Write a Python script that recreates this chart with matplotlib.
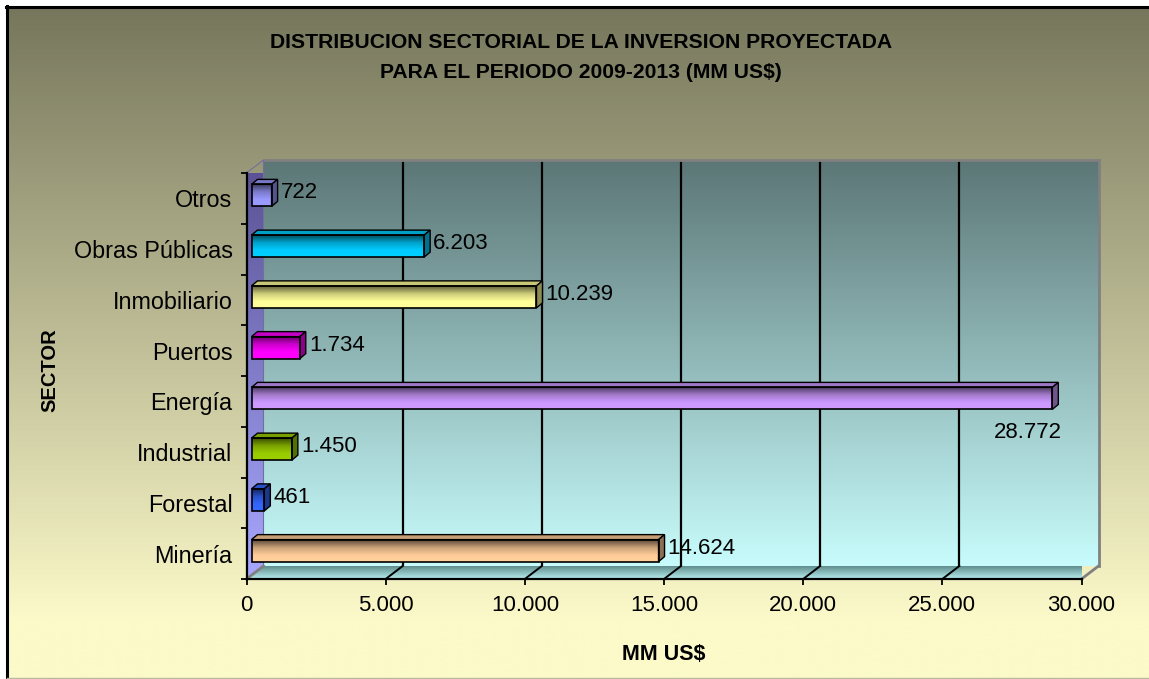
import numpy as np
import matplotlib.pyplot as plt
from matplotlib.colors import LinearSegmentedColormap, to_rgb
from matplotlib.patches import Polygon, Rectangle
from matplotlib.lines import Line2D

plt.rcParams['font.family'] = ['Liberation Sans', 'DejaVu Sans']

# datos (MM US$)
sectores = ['Minería', 'Forestal', 'Industrial', 'Energía',
            'Puertos', 'Inmobiliario', 'Obras Públicas', 'Otros']
inversion = [14624, 461, 1450, 28772, 1734, 10239, 6203, 722]
etiquetas = ['14.624', '461', '1.450', '28.772', '1.734', '10.239', '6.203', '722']
colores = ['#ffcc99', '#3366ff', '#99cc00', '#cc99ff',
           '#ff00ff', '#ffff99', '#00ccff', '#9999ff']
xticks = [0, 5000, 10000, 15000, 20000, 25000, 30000]
xticklabels = ['0', '5.000', '10.000', '15.000', '20.000', '25.000', '30.000']

W, H = 1149, 679
fig = plt.figure(figsize=(W / 100, H / 100), dpi=100, facecolor='white')


def px_box(l, t, r, b):
    return [l / W, 1 - b / H, (r - l) / W, (b - t) / H]


def vgrad(top, bottom, n=256):
    # gradiente vertical (fila 0 = arriba)
    t = np.linspace(0, 1, n)[:, None, None]
    return np.array(top)[None, None, :] * (1 - t) + np.array(bottom)[None, None, :] * t


# ---- fondo del grafico
bg = fig.add_axes([0, 0, 1, 1], zorder=0)
bg.set_xlim(0, W)
bg.set_ylim(H, 0)
bg.axis('off')
rows = np.arange(H)
f = np.clip(rows / 620.0, 0, 1)[:, None, None]
top_c = np.array([118, 118, 92]) / 255
bot_c = np.array([252, 250, 201]) / 255
grad = top_c * (1 - f) + bot_c * f
bg.imshow(grad, extent=[7, W, H, 7], aspect='auto', interpolation='bilinear')
bg.add_line(Line2D([7, 7], [6, H], color='black', lw=2.2))
bg.add_line(Line2D([6, W], [7, 7], color='black', lw=2.2))
bg.add_line(Line2D([7, W], [678, 678], color='#b8b8a0', lw=1))
bg.set_xlim(0, W)
bg.set_ylim(H, 0)

# ---- geometria del plano frontal y profundidad de la pared
FL, FT, FR, FB = 246.5, 173, 1081.5, 579
DX, DY = 17, 13

xmax = 30000
ylo, yhi = -0.5, len(sectores) - 0.5

# pared del fondo
wall = fig.add_axes(px_box(FL + DX, FT - DY, FR + DX, FB - DY), zorder=1)
wall.imshow(vgrad([92 / 255, 118 / 255, 118 / 255], [200 / 255, 252 / 255, 252 / 255]),
            extent=[0, xmax, ylo, yhi], aspect='auto', interpolation='bilinear')
wall.set_xlim(0, xmax)
wall.set_ylim(ylo, yhi)
wall.vlines(xticks[1:-1], ylo, yhi, color='black', lw=1.6)
wall.set_xticks([])
wall.set_yticks([])
for s in ['left', 'bottom']:
    wall.spines[s].set_visible(False)
for s in ['top', 'right']:
    wall.spines[s].set_color('#808080')
    wall.spines[s].set_linewidth(2)

# ejes principales
ax = fig.add_axes(px_box(FL, FT, FR, FB), zorder=2)
ax.patch.set_visible(False)
ax.set_autoscale_on(False)
ax.set_xlim(0, xmax)
ax.set_ylim(ylo, yhi)

bb = ax.get_window_extent()
kx = xmax / bb.width
ky = (yhi - ylo) / bb.height
ddx, ddy = DX * kx, DY * ky

# pared izquierda
lw_poly = Polygon([(0, ylo), (ddx, ylo + ddy), (ddx, yhi + ddy), (0, yhi)], closed=True,
                  facecolor='none', edgecolor='#7070a0', lw=0.8, clip_on=False, zorder=1)
ax.add_patch(lw_poly)
im = ax.imshow(vgrad([88 / 255, 80 / 255, 145 / 255], [168 / 255, 168 / 255, 255 / 255]),
               extent=[0, ddx, ylo, yhi + ddy], aspect='auto', interpolation='bilinear', zorder=0.5)
im.set_clip_path(lw_poly)

# piso
floor = Polygon([(0, ylo), (xmax, ylo), (xmax + ddx, ylo + ddy), (ddx, ylo + ddy)], closed=True,
                facecolor='none', edgecolor='none', clip_on=False, zorder=1)
ax.add_patch(floor)
im = ax.imshow(vgrad([95 / 255, 140 / 255, 140 / 255], [185 / 255, 240 / 255, 240 / 255]),
               extent=[0, xmax + ddx, ylo, ylo + ddy], aspect='auto', interpolation='bilinear', zorder=0.5)
im.set_clip_path(floor)
for x in xticks:
    c = 'black' if 0 < x < xmax else '#808080'
    ax.add_line(Line2D([x, x + ddx], [ylo, ylo + ddy], color=c, lw=1.4 if c == 'black' else 2,
                       clip_on=False, zorder=1.2))

# ---- barras 3D
sx, sy = 5 * kx, 3 * ky          # desplazamiento de las barras
bh = 22 * ky                     # alto de la cara frontal
tdx, tdy = 6 * kx, 5 * ky        # profundidad de la barra
renderer = fig.canvas.get_renderer()

for i, (v, col, lab) in enumerate(zip(inversion, colores, etiquetas)):
    c = np.array(to_rgb(col))
    cmap = LinearSegmentedColormap.from_list(
        'b%d' % i, [(0, c * 0.38), (0.35, c * 0.8), (0.7, c), (1, np.minimum(c * 1.02, 1))])
    x0, x1 = sx, sx + v
    y0, y1 = i + sy - bh / 2, i + sy + bh / 2
    ax.imshow(np.linspace(0, 1, 64)[:, None], extent=[x0, x1, y0, y1], cmap=cmap,
              aspect='auto', interpolation='bilinear', zorder=3)
    ax.add_patch(Rectangle((x0, y0), v, bh, facecolor='none', edgecolor='black', lw=1.2, zorder=3.2))
    ax.add_patch(Polygon([(x0, y1), (x1, y1), (x1 + tdx, y1 + tdy), (x0 + tdx, y1 + tdy)],
                         facecolor=c * 0.78, edgecolor='black', lw=1.0, zorder=3.1))
    ax.add_patch(Polygon([(x1, y0), (x1, y1), (x1 + tdx, y1 + tdy), (x1 + tdx, y0 + tdy)],
                         facecolor=c * 0.55, edgecolor='black', lw=1.0, zorder=3.1))

    t = ax.text(x1 + tdx + 3 * kx, i + sy + tdy / 2, lab, ha='left', va='center',
                fontsize=16, zorder=4)
    ext = t.get_window_extent(renderer=renderer)
    if ext.x1 > bb.x1:
        t.set_ha('right')
        t.set_position((x1 + tdx + 4 * kx, i + sy - 34 * ky))

# ---- ejes y etiquetas
ax.set_xticks(xticks)
ax.set_xticklabels(xticklabels)
ax.set_yticks(range(len(sectores)))
ax.set_yticklabels(sectores)
ax.set_yticks(np.arange(ylo, yhi + 0.01, 1), minor=True)
ax.tick_params(axis='y', which='major', length=0, pad=10, labelsize=16.8)
ax.tick_params(axis='y', which='minor', length=4.3, width=1.3, direction='out')
ax.tick_params(axis='x', length=4.3, width=1.3, direction='out', pad=7, labelsize=16)
for s in ['top', 'right']:
    ax.spines[s].set_visible(False)
for s in ['left', 'bottom']:
    ax.spines[s].set_linewidth(1.6)
    ax.spines[s].set_zorder(5)

fig.text(581 / W, 1 - 43 / H, 'DISTRIBUCION SECTORIAL DE LA INVERSION PROYECTADA',
         ha='center', va='center', fontsize=15.2, fontweight='bold')
fig.text(581 / W, 1 - 72 / H, 'PARA EL PERIODO 2009-2013 (MM US$)',
         ha='center', va='center', fontsize=15.2, fontweight='bold')
fig.text(664 / W, 1 - 655 / H, 'MM US$', ha='center', va='center', fontsize=15.5, fontweight='bold')
fig.text(50 / W, 1 - 370 / H, 'SECTOR', ha='center', va='center', rotation=90,
         fontsize=14.5, fontweight='bold')

fig.savefig('out.png', dpi=100, facecolor='white')
